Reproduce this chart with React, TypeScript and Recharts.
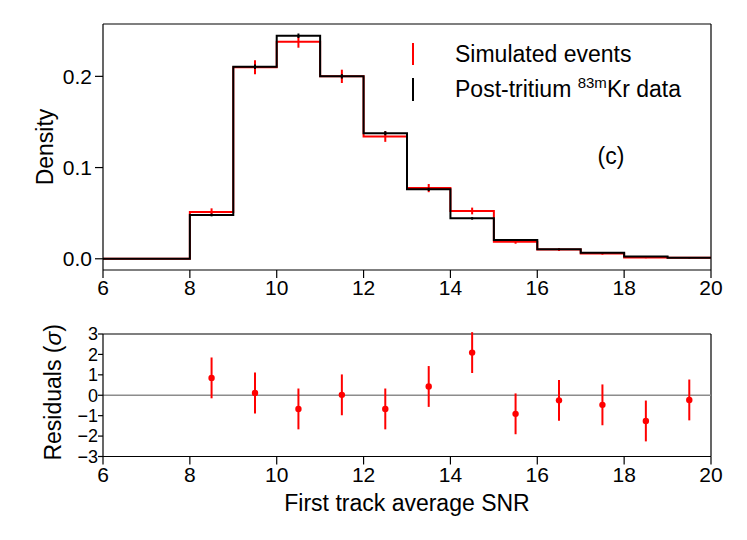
import {
  ComposedChart,
  Line,
  Scatter,
  ErrorBar,
  XAxis,
  YAxis,
  ReferenceLine,
  Legend,
} from "recharts";

// bin edges of the SNR histogram (6..20, width 1)
const binEdges = [6, 7, 8, 9, 10, 11, 12, 13, 14, 15, 16, 17, 18, 19, 20];
// density per bin, bins 6-7 ... 19-20
const simulated = [0, 0, 0.0513, 0.21, 0.238, 0.2, 0.134, 0.0775, 0.0524, 0.0187, 0.0102, 0.0057, 0.0015, 0.001];
const postTritium = [0, 0, 0.048, 0.2105, 0.2445, 0.2, 0.1377, 0.0762, 0.0443, 0.0205, 0.0104, 0.0066, 0.0025, 0.001];

// bin centres where error bars / residuals are drawn
const centres = [8.5, 9.5, 10.5, 11.5, 12.5, 13.5, 14.5, 15.5, 16.5, 17.5, 18.5, 19.5];
const simulatedErr = [0.004, 0.0077, 0.0066, 0.0073, 0.0058, 0.0045, 0.0037, 0.0022, 0.0016, 0.0012, 0.0009, 0.0007];
const postTritiumErr = [0.0015, 0.0024, 0.0025, 0.0024, 0.0022, 0.0018, 0.0014, 0.001, 0.0007, 0.0006, 0.0004, 0.0003];

const residuals = [0.85, 0.11, -0.67, 0.02, -0.67, 0.43, 2.09, -0.91, -0.25, -0.47, -1.26, -0.23];
const residualErr = [1, 1, 1, 1, 1, 1, 1, 1, 1, 1, 1, 1];

const xTicks = [6, 8, 10, 12, 14, 16, 18, 20];
const densityTicks = [0, 0.1, 0.2];
const residualTicks = [-3, -2, -1, 0, 1, 2, 3];

const xDomain = [6, 20];
const densityDomain = [-0.0123, 0.2574];
const residualDomain = [-3, 3];

const RED = "#ff0000";
const FONT = '"Liberation Sans", Arial, Helvetica, sans-serif';

const last = simulated.length - 1;
const stepRows = binEdges.map((x, i) => ({
  x,
  sim: simulated[Math.min(i, last)],
  dat: postTritium[Math.min(i, last)],
}));

const errRows = centres.map((x, i) => ({
  x,
  sim: simulated[i + 2],
  simErr: simulatedErr[i],
  dat: postTritium[i + 2],
  datErr: postTritiumErr[i],
}));

const residualRows = centres.map((x, i) => ({
  x,
  r: residuals[i],
  e: residualErr[i],
}));

const axisLine = { stroke: "#000", strokeWidth: 1.2 };
const tickStyle = { fontSize: 21, fill: "#000", fontFamily: FONT };
const smallTickStyle = { fontSize: 18, fill: "#000", fontFamily: FONT };
const minus = (v: number) => String(v).replace("-", "\u2212");

const noShape = () => <g />;

/* eslint-disable @typescript-eslint/no-explicit-any */
function DensityLabel({ viewBox }: any) {
  const cy = viewBox.y + viewBox.height / 2;
  return (
    <text
      x={53}
      y={cy}
      transform={`rotate(-90 53 ${cy})`}
      textAnchor="middle"
      fontSize={23}
      fill="#000"
      fontFamily={FONT}
    >
      Density
    </text>
  );
}

function ResidualLabel({ viewBox }: any) {
  const cy = viewBox.y + viewBox.height / 2 - 3;
  return (
    <text
      x={61}
      y={cy}
      transform={`rotate(-90 61 ${cy})`}
      textAnchor="middle"
      fontSize={23}
      fill="#000"
      fontFamily={FONT}
    >
      Residuals (<tspan fontStyle="italic">σ</tspan>)
    </text>
  );
}

function SnrLabel({ viewBox }: any) {
  return (
    <text
      x={viewBox.x + viewBox.width / 2}
      y={viewBox.y + 54}
      textAnchor="middle"
      fontSize={23}
      fill="#000"
      fontFamily={FONT}
    >
      First track average SNR
    </text>
  );
}
/* eslint-enable @typescript-eslint/no-explicit-any */

function HistLegend() {
  return (
    <svg width={747} height={300} style={{ fontFamily: FONT }}>
      <line x1={413} x2={413} y1={43} y2={65} stroke={RED} strokeWidth={2} />
      <line x1={413} x2={413} y1={78} y2={101} stroke="#000" strokeWidth={2} />
      <text x={455} y={61.5} fontSize={23} fill="#000">
        Simulated events
      </text>
      <text x={455} y={97} fontSize={23} fill="#000">
        Post-tritium{" "}
        <tspan fontSize={15} dy={-9}>
          83m
        </tspan>
        <tspan dy={9}>Kr data</tspan>
      </text>
      <text x={611} y={164} fontSize={23} fill="#000" textAnchor="middle">
        (c)
      </text>
    </svg>
  );
}

export default function App() {
  return (
    <div
      style={{
        position: "absolute",
        left: 0,
        top: 0,
        width: 747,
        height: 540,
        background: "#fff",
        fontFamily: FONT,
      }}
    >
      {/* Density histogram */}
      <div style={{ position: "absolute", left: 0, top: 0 }}>
        <ComposedChart
          width={747}
          height={300}
          margin={{ top: 24, right: 36, bottom: 0, left: 0 }}
        >
          <XAxis
            dataKey="x"
            type="number"
            domain={xDomain}
            ticks={xTicks}
            interval={0}
            allowDataOverflow
            tickSize={8}
            tickMargin={2}
            tick={tickStyle}
            axisLine={axisLine}
            tickLine={axisLine}
            height={30}
          />
          <YAxis
            type="number"
            domain={densityDomain}
            ticks={densityTicks}
            allowDataOverflow
            tickFormatter={(v: number) => v.toFixed(1)}
            tickSize={8}
            tickMargin={3}
            tick={tickStyle}
            axisLine={axisLine}
            tickLine={axisLine}
            width={103}
            label={<DensityLabel />}
          />
          {/* box: top and right edges */}
          <ReferenceLine y={densityDomain[1]} stroke="#000" strokeWidth={1.2} />
          <ReferenceLine x={xDomain[1]} stroke="#000" strokeWidth={1.2} />
          <Legend
            layout="horizontal"
            verticalAlign="middle"
            content={<HistLegend />}
            wrapperStyle={{ left: 0, top: 0, width: 747, height: 300 }}
          />
          <Line
            data={stepRows}
            dataKey="sim"
            type="stepAfter"
            stroke={RED}
            strokeWidth={2}
            dot={false}
            activeDot={false}
            isAnimationActive={false}
          />
          <Scatter
            data={errRows}
            dataKey="sim"
            shape={noShape}
            isAnimationActive={false}
          >
            <ErrorBar
              dataKey="simErr"
              direction="y"
              width={0}
              stroke={RED}
              strokeWidth={2}
              isAnimationActive={false}
            />
          </Scatter>
          <Line
            data={stepRows}
            dataKey="dat"
            type="stepAfter"
            stroke="#000"
            strokeWidth={2}
            dot={false}
            activeDot={false}
            isAnimationActive={false}
          />
          <Scatter
            data={errRows}
            dataKey="dat"
            shape={noShape}
            isAnimationActive={false}
          >
            <ErrorBar
              dataKey="datErr"
              direction="y"
              width={0}
              stroke="#000"
              strokeWidth={2}
              isAnimationActive={false}
            />
          </Scatter>
        </ComposedChart>
      </div>

      {/* Residuals */}
      <div style={{ position: "absolute", left: 0, top: 300 }}>
        <ComposedChart
          width={747}
          height={240}
          margin={{ top: 34, right: 36, bottom: 0, left: 0 }}
        >
          <XAxis
            dataKey="x"
            type="number"
            domain={xDomain}
            ticks={xTicks}
            interval={0}
            allowDataOverflow
            tickSize={8}
            tickMargin={3}
            tick={tickStyle}
            axisLine={axisLine}
            tickLine={axisLine}
            height={83.5}
            label={<SnrLabel />}
          />
          <YAxis
            type="number"
            domain={residualDomain}
            ticks={residualTicks}
            interval={0}
            allowDataOverflow
            tickFormatter={minus}
            tickSize={5}
            tickMargin={0}
            tick={smallTickStyle}
            axisLine={axisLine}
            tickLine={axisLine}
            width={103}
            label={<ResidualLabel />}
          />
          <ReferenceLine y={residualDomain[1]} stroke="#000" strokeWidth={1.2} />
          <ReferenceLine x={xDomain[1]} stroke="#000" strokeWidth={1.2} />
          <ReferenceLine y={0} stroke="#8c8c8c" strokeWidth={1.5} />
          <Scatter
            data={residualRows}
            dataKey="r"
            fill={RED}
            shape={(p: { cx?: number; cy?: number }) => (
              <circle cx={p.cx} cy={p.cy} r={3.2} fill={RED} />
            )}
            isAnimationActive={false}
          >
            <ErrorBar
              dataKey="e"
              direction="y"
              width={0}
              stroke={RED}
              strokeWidth={2}
              isAnimationActive={false}
            />
          </Scatter>
        </ComposedChart>
      </div>
    </div>
  );
}
